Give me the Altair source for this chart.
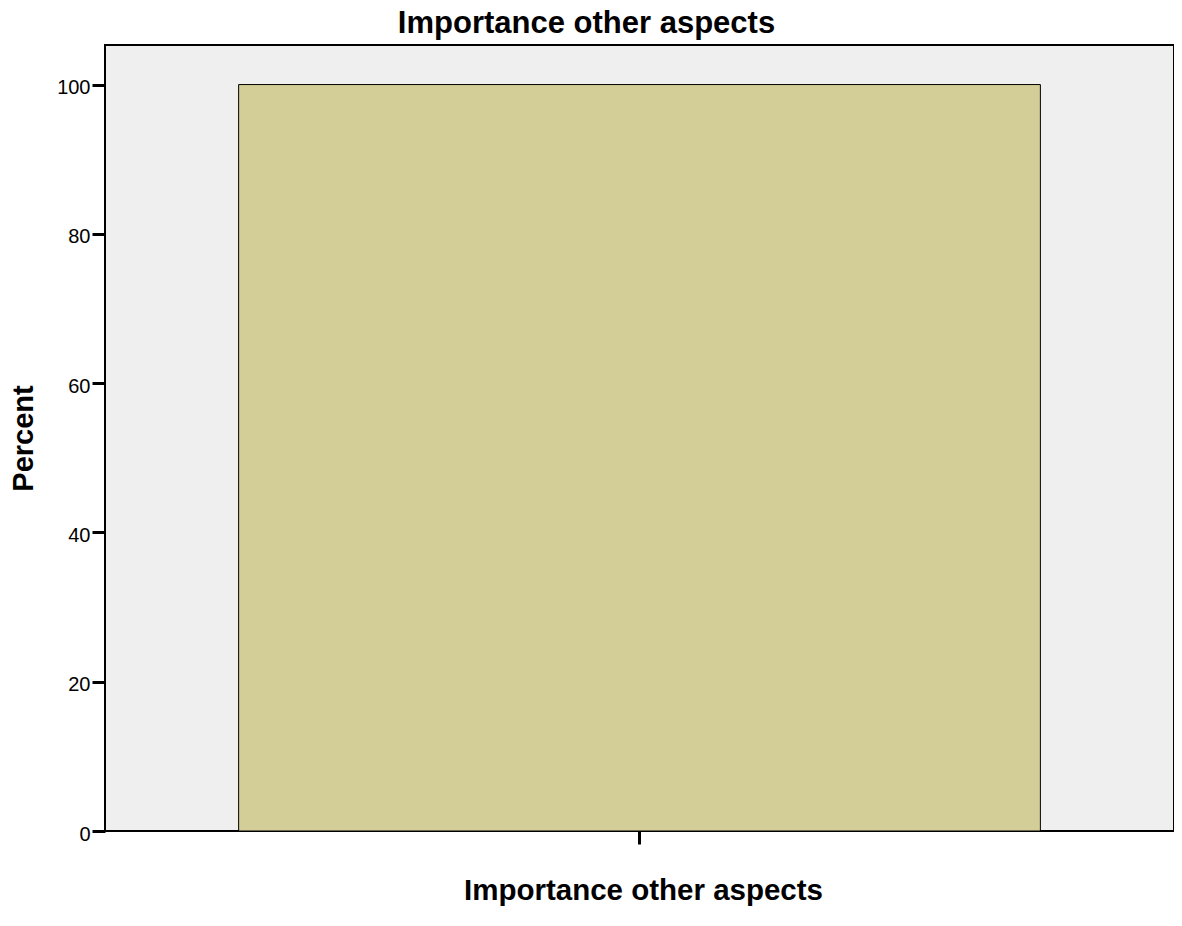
import altair as alt
import pandas as pd

categories = [""]
percent = [100.0]

df = pd.DataFrame({"category": categories, "percent": percent})

FONT = "Liberation Sans"

chart = (
    alt.Chart(df)
    .mark_bar(color="#d3ce98", stroke="#000000", strokeWidth=1)
    .encode(
        x=alt.X(
            "category:N",
            title="Importance other aspects",
            scale=alt.Scale(paddingInner=0.25, paddingOuter=0.125),
            axis=alt.Axis(
                labels=False,
                domain=False,
                ticks=True,
                tickSize=13,
                tickWidth=3,
                tickColor="#000000",
                titleFont=FONT,
                titleFontSize=29.5,
                titleFontWeight="bold",
                titleColor="#000000",
                titlePadding=31,
                titleX=538,
            ),
        ),
        y=alt.Y(
            "percent:Q",
            title="Percent",
            scale=alt.Scale(domain=[0, 105.3], nice=False),
            axis=alt.Axis(
                values=[0, 20, 40, 60, 80, 100],
                grid=False,
                domain=False,
                tickSize=13,
                tickWidth=3,
                tickColor="#000000",
                labelFont=FONT,
                labelFontSize=20,
                labelColor="#000000",
                labelPadding=2,
                labelBaseline="middle",
                labelOffset=3,
                titleFont=FONT,
                titleFontSize=29,
                titleFontWeight="bold",
                titleColor="#000000",
                titlePadding=18,
            ),
        ),
    )
    .properties(
        width=1069,
        height=786,
        background="#ffffff",
        title=alt.TitleParams(
            "Importance other aspects",
            font=FONT,
            fontSize=31,
            fontWeight="bold",
            color="#000000",
            anchor="middle",
            dx=-53,
            offset=5,
        ),
        autosize=alt.AutoSizeParams(type="none"),
        padding={"left": 97, "top": 37, "right": 0, "bottom": 80},
    )
    .configure_view(fill="#efefef", stroke="#000000", strokeWidth=2)
)

chart.save("out.html", embed_options={"renderer": "svg", "actions": False})
